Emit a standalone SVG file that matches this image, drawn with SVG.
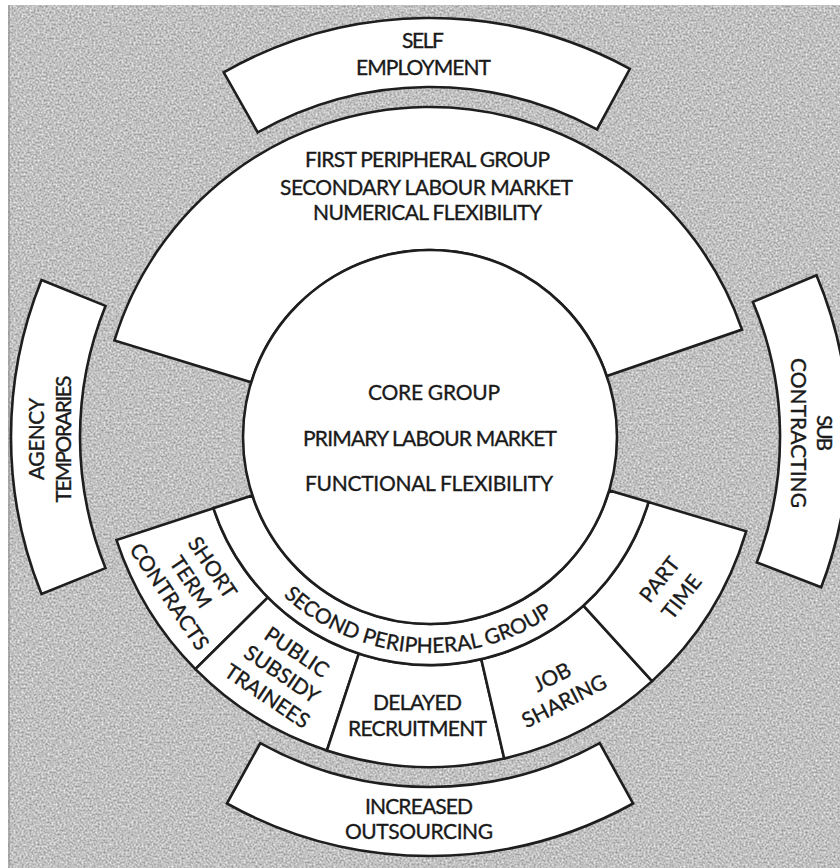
<svg xmlns="http://www.w3.org/2000/svg" width="840" height="868" viewBox="0 0 840 868">
  <defs>
    <style>
      .shape { fill: #ffffff; stroke: #1e1e1e; stroke-width: 2.6; stroke-linejoin: miter; }
      .t { font-family: Lato, "Liberation Sans", sans-serif; font-size: 21px; fill: #1a1a1a; stroke: #1a1a1a; stroke-width: 0.35; text-anchor: middle; }
    </style>
    <filter id="grain" filterUnits="userSpaceOnUse" x="8" y="5" width="832" height="863" color-interpolation-filters="sRGB">
      <feTurbulence type="fractalNoise" baseFrequency="0.5" numOctaves="2" seed="7"/>
      <feColorMatrix type="matrix" values="0.55 0 0 0 0.48  0.55 0 0 0 0.48  0.55 0 0 0 0.48  0 0 0 0 1"/>
    </filter>
    <path id="arc2" d="M242.9,545.0 A216,216 0 0 0 600.2,570.0"/>
  </defs>

  <g id="background">
    <rect x="0" y="0" width="840" height="868" fill="#ffffff"/>
    <rect x="8" y="5" width="832" height="863" fill="#c0c0c0" filter="url(#grain)"/>
    <line x1="9" y1="5" x2="9" y2="868" stroke="#8e8e8e" stroke-width="1.5" opacity="0.7"/>
  </g>

  <g id="connectors"/>

  <g id="self-employment">
    <path class="shape" d="M223.7,72.3 A419,419 0 0 1 629.9,68.8 L597.0,129.4 A350,350 0 0 0 257.7,132.4 Z"/>
    <text class="t" x="423" y="48" textLength="42">SELF</text>
    <text class="t" x="423.5" y="75" textLength="135">EMPLOYMENT</text>
  </g>

  <g id="agency-temporaries">
    <path class="shape" d="M41.5,280.0 A419,419 0 0 0 41.5,594.0 L105.5,568.1 A350,350 0 0 1 105.5,305.9 Z"/>
    <g transform="translate(57.5,439) rotate(-90)">
      <text class="t" x="0" y="-13.5" textLength="82">AGENCY</text>
      <text class="t" x="0" y="13.5" textLength="127">TEMPORARIES</text>
    </g>
  </g>

  <g id="sub-contracting">
    <path class="shape" d="M816.5,275.3 A419,419 0 0 1 821.2,587.2 L756.8,562.4 A350,350 0 0 0 752.9,301.9 Z"/>
    <g transform="translate(804,433) rotate(90)">
      <text class="t" x="0" y="-13" textLength="36">SUB</text>
      <text class="t" x="0" y="13" textLength="150">CONTRACTING</text>
    </g>
  </g>

  <g id="increased-outsourcing">
    <path class="shape" d="M633.1,803.5 A419,419 0 0 1 226.9,803.5 L260.3,743.1 A350,350 0 0 0 599.7,743.1 Z"/>
    <text class="t" x="419" y="814" textLength="108">INCREASED</text>
    <text class="t" x="419" y="839" textLength="148">OUTSOURCING</text>
  </g>

  <g id="first-peripheral-group">
    <path class="shape" d="M114.4,340.5 A330,330 0 0 1 742.0,329.6 L606.8,376.1 A187,187 0 0 0 251.2,382.3 Z"/>
    <text class="t" x="427.5" y="167" textLength="245">FIRST PERIPHERAL GROUP</text>
    <text class="t" x="426.5" y="195" textLength="293">SECONDARY LABOUR MARKET</text>
    <text class="t" x="427.5" y="220" textLength="229">NUMERICAL FLEXIBILITY</text>
  </g>

  <g id="short-term-contracts">
    <path class="shape" d="M213.4,508.2 L116.5,540.1 A330,330 0 0 0 195.4,669.1 L267.9,597.4 A228,228 0 0 1 213.4,508.2 Z"/>
    <g transform="translate(191,582) rotate(56)">
      <text class="t" x="0" y="-18.5">SHORT</text>
      <text class="t" x="0" y="7.5">TERM</text>
      <text class="t" x="0" y="33.5">CONTRACTS</text>
    </g>
  </g>

  <g id="public-subsidy-trainees">
    <path class="shape" d="M267.9,597.4 L195.4,669.1 A330,330 0 0 0 326.9,750.5 L358.8,653.6 A228,228 0 0 1 267.9,597.4 Z"/>
    <g transform="translate(282,674) rotate(34)">
      <text class="t" x="0" y="-19">PUBLIC</text>
      <text class="t" x="0" y="7.5">SUBSIDY</text>
      <text class="t" x="0" y="34">TRAINEES</text>
    </g>
  </g>

  <g id="delayed-recruitment">
    <path class="shape" d="M358.8,653.6 L326.9,750.5 A330,330 0 0 0 504.2,758.5 L481.3,659.2 A228,228 0 0 1 358.8,653.6 Z"/>
    <text class="t" x="417.5" y="710" textLength="89">DELAYED</text>
    <text class="t" x="417.5" y="736" textLength="139">RECRUITMENT</text>
  </g>

  <g id="job-sharing">
    <path class="shape" d="M481.3,659.2 L504.2,758.5 A330,330 0 0 0 652.1,681.1 L583.4,605.6 A228,228 0 0 1 481.3,659.2 Z"/>
    <g transform="translate(558,689) rotate(-27)">
      <text class="t" x="0" y="-6">JOB</text>
      <text class="t" x="0" y="21">SHARING</text>
    </g>
  </g>

  <g id="part-time">
    <path class="shape" d="M583.4,605.6 L652.1,681.1 A330,330 0 0 0 746.2,531.3 L648.5,502.1 A228,228 0 0 1 583.4,605.6 Z"/>
    <g transform="translate(670.5,588) rotate(-52)">
      <text class="t" x="0" y="-6.5">PART</text>
      <text class="t" x="0" y="21.5">TIME</text>
    </g>
  </g>

  <g id="second-peripheral-group">
    <path class="shape" d="M648.5,502.1 L609.2,490.4 A187,187 0 0 1 252.3,495.4 L213.4,508.2 A228,228 0 0 0 648.5,502.1 Z"/>
    <text class="t"><textPath href="#arc2" startOffset="50%">SECOND PERIPHERAL GROUP</textPath></text>
  </g>

  <g id="core-group">
    <circle class="shape" cx="430" cy="437" r="187"/>
    <text class="t" x="434" y="400" textLength="132">CORE GROUP</text>
    <text class="t" x="430" y="446" textLength="254">PRIMARY LABOUR MARKET</text>
    <text class="t" x="429" y="491" textLength="248">FUNCTIONAL FLEXIBILITY</text>
  </g>
</svg>
